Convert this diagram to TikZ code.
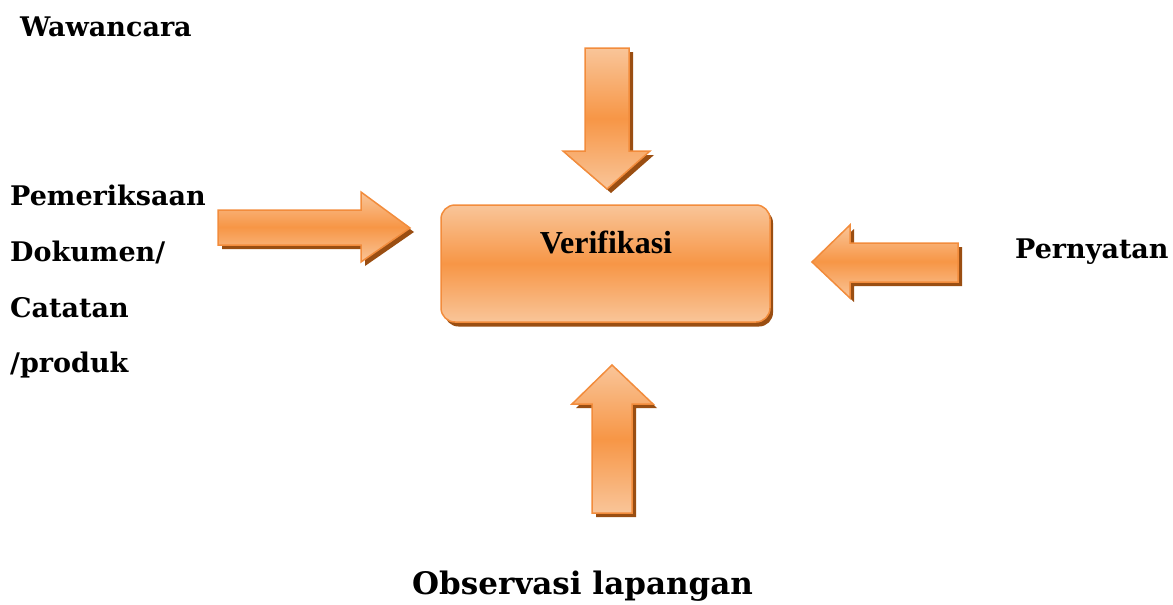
\documentclass[tikz,border=0pt]{standalone}
\usepackage{fontspec}
\setmainfont{Liberation Serif}
\newfontfamily\lblfont{DejaVu Serif}
\definecolor{lightorange}{HTML}{F9C599}
\definecolor{midorange}{HTML}{F79646}
\definecolor{edgeorange}{HTML}{F28C3C}
\definecolor{shadowbrown}{HTML}{9A4E12}
% block arrow with a drop shadow: shadow first, then the shaded body
\newcommand\blockarrow[1]{%
  \fill[shadowfill,shift={(4,4)}] #1;
  \draw[orangebody] #1;}
\begin{document}
\begin{tikzpicture}[x=1pt,y=-1pt,
  shadowfill/.style={fill=shadowbrown,draw=none},
  orangebody/.style={top color=lightorange,bottom color=lightorange,
    middle color=midorange,draw=edgeorange,line width=1.5pt,line join=miter},
  lbl/.style={anchor=base west,inner sep=0pt,
    font=\lblfont\bfseries\fontsize{27}{32}\selectfont}]
\useasboundingbox (0,0) rectangle (1173,605);

% central box
\fill[shadowfill,rounded corners=14] (444.5,209) rectangle (773,326.5);
\node[orangebody,rounded corners=14,minimum width=329pt,minimum height=117pt,
  inner sep=0pt] (verif) at (605.5,263.5) {};
\node[anchor=base,inner sep=0pt,font=\bfseries\fontsize{32}{38}\selectfont]
  (veriftext) at (606,253) {Verifikasi};

% four block arrows pointing at the box
\blockarrow{(585,48) -- (629,48) -- (629,151) -- (650,151) -- (607,189) -- (563,151) -- (585,151) -- cycle}
\blockarrow{(612,365) -- (653,404) -- (632,404) -- (632,513) -- (592,513) -- (592,404) -- (572,404) -- cycle}
\blockarrow{(218,210) -- (361,210) -- (361,192) -- (410,228) -- (361,262) -- (361,245) -- (218,245) -- cycle}
\blockarrow{(812,262) -- (850,225) -- (850,243) -- (958,243) -- (958,282) -- (850,282) -- (850,298) -- cycle}

% labels
\node[lbl] (wawancara) at (20,36) {Wawancara};
\node[lbl] (doc1) at (10,205) {Pemeriksaan};
\node[lbl] (doc2) at (10,261) {Dokumen/};
\node[lbl] (doc3) at (10,317) {Catatan};
\node[lbl] (doc4) at (10,372) {/produk};
\node[lbl] (pernyatan) at (1015,258) {Pernyatan};
\node[lbl,font=\lblfont\bfseries\fontsize{31}{36}\selectfont]
  (observasi) at (412,594) {Observasi lapangan};
\end{tikzpicture}
\end{document}
